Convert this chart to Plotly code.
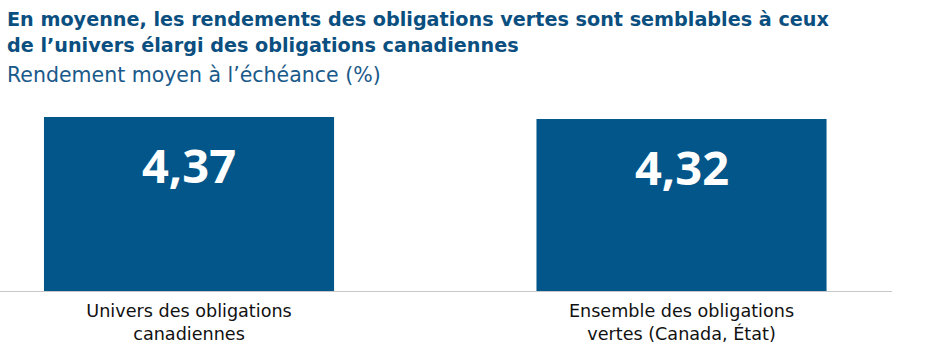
import plotly.graph_objects as go

categories = ["Univers des obligations<br>canadiennes", "Ensemble des obligations<br>vertes (Canada, État)"]
values = [4.37, 4.32]
value_labels = ["4,37", "4,32"]

title_line1 = "En moyenne, les rendements des obligations vertes sont semblables à ceux"
title_line2 = "de l’univers élargi des obligations canadiennes"
subtitle = "Rendement moyen à l’échéance (%)"

BAR = "#02568a"
TITLE = "#0b4f80"
FONT = "'DejaVu Sans', sans-serif"
FONT2 = "'Open Sans', sans-serif"

x_idx = list(range(len(categories)))

fig = go.Figure()
fig.add_trace(go.Bar(
    x=x_idx, y=values, width=0.589,
    marker=dict(color=BAR, line=dict(width=0)),
    hoverinfo="skip",
))

for i, (v, lab) in enumerate(zip(values, value_labels)):
    fig.add_annotation(
        x=i, y=v, xref="x", yref="y", text=f"<b>{lab}</b>",
        showarrow=False, yanchor="top", yshift=-14,
        font=dict(family=FONT2, size=47, color="white"),
    )

for line, top in [(title_line1, 6), (title_line2, 32)]:
    fig.add_annotation(
        x=0, y=1, xref="paper", yref="paper", xanchor="left", yanchor="top",
        xshift=5, yshift=100 - top, align="left", showarrow=False,
        text=f"<b>{line}</b>",
        font=dict(family=FONT, size=19.2, color=TITLE),
    )
fig.add_annotation(
    x=0, y=1, xref="paper", yref="paper", xanchor="left", yanchor="top",
    xshift=5, yshift=100 - 61, align="left", showarrow=False,
    text=subtitle,
    font=dict(family=FONT, size=20.5, color="#1a5a8a"),
)

fig.update_layout(
    width=941, height=351,
    margin=dict(l=0, r=49, t=100, b=60),
    paper_bgcolor="white", plot_bgcolor="white",
    showlegend=False,
    font=dict(family=FONT, color="#111111"),
    xaxis=dict(
        range=[-0.3838, 1.4274], tickmode="array", tickvals=x_idx, ticktext=categories,
        showline=True, linecolor="#c8c8c8", linewidth=1, showgrid=False, zeroline=False,
        ticks="", ticklabelstandoff=4, tickfont=dict(family=FONT, size=17.6, color="#111111"),
        fixedrange=True,
    ),
    yaxis=dict(range=[0, 4.797], visible=False, fixedrange=True),
)

fig.write_html("out.html", config={"displayModeBar": False})
